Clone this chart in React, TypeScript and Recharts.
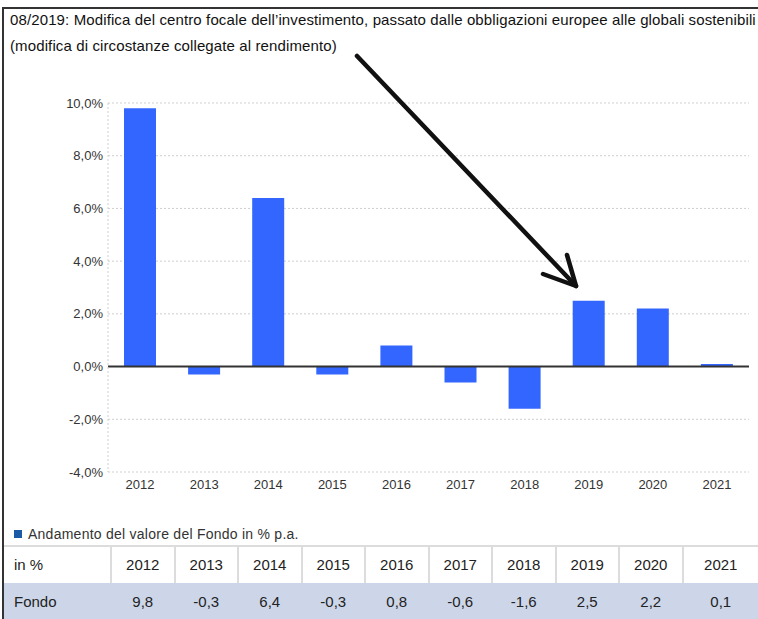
import React from "react";
import { BarChart, Bar, XAxis, YAxis, CartesianGrid, ReferenceLine } from "recharts";

const years = ["2012", "2013", "2014", "2015", "2016", "2017", "2018", "2019", "2020", "2021"];
const fondo = [9.8, -0.3, 6.4, -0.3, 0.8, -0.6, -1.6, 2.5, 2.2, 0.1];
const yTicks = [-4, -2, 0, 2, 4, 6, 8, 10];
const titleLines = [
  "08/2019: Modifica del centro focale dell\u2019investimento, passato dalle obbligazioni europee alle globali sostenibili",
  "(modifica di circostanze collegate al rendimento)",
];
const legendLabel = "Andamento del valore del Fondo in % p.a.";
const tableHeadLabel = "in %";
const tableRowLabel = "Fondo";

const data = years.map((y, i) => ({ year: y, value: fondo[i] }));
const fmtPct = (v: number) => v.toFixed(1).replace(".", ",") + "%";
const fmtNum = (v: number) => v.toFixed(1).replace(".", ",");

const FONT = "'Liberation Sans', Arial, Helvetica, sans-serif";

export default function App() {
  const colW = 63.5;
  const firstW = 106;
  return (
    <div style={{ position: "absolute", left: 0, top: 0, width: 758, height: 619, overflow: "hidden", background: "#fff", fontFamily: FONT }}>
      {/* frame */}
      <div style={{ position: "absolute", left: 2, top: 7, width: 800, height: 2, background: "#333" }} />
      <div style={{ position: "absolute", left: 2, top: 7, width: 2, height: 620, background: "#333" }} />
      {/* title */}
      {titleLines.map((t, i) => (
        <div key={i} style={{ position: "absolute", left: 10, top: 11 + i * 26, fontSize: 15, letterSpacing: 0.12, color: "#111", whiteSpace: "nowrap", lineHeight: "18px" }}>
          {t}
        </div>
      ))}
      <div style={{ position: "absolute", left: 0, top: 0 }}>
        <BarChart width={758} height={500} data={data} margin={{ top: 103, right: 9, bottom: 0, left: 48 }} barSize={32}>
          <CartesianGrid vertical={false} stroke="#cfcfcf" strokeDasharray="2 2" />
          <XAxis dataKey="year" height={28} axisLine={false} tickLine={false} tick={{ fontSize: 13, fill: "#333", fontFamily: FONT }} />
          <YAxis
            width={60}
            domain={[-4, 10]}
            ticks={yTicks}
            tickFormatter={fmtPct}
            axisLine={{ stroke: "#cfcfcf", strokeDasharray: "2 2" }}
            tickLine={false}
            tickSize={3}
            tickMargin={2}
            tick={{ fontSize: 13, fill: "#333", fontFamily: FONT }}
          />
          <Bar dataKey="value" fill="#3366ff" isAnimationActive={false} />
          <ReferenceLine y={0} stroke="#333" strokeWidth={2} />
        </BarChart>
      </div>
      {/* arrow annotation */}
      <svg style={{ position: "absolute", left: 0, top: 0 }} width={758} height={619}>
        <g stroke="#111" strokeWidth={4.5} strokeLinecap="round" strokeLinejoin="round" fill="none">
          <line x1={357} y1={56} x2={576} y2={286} />
          <polyline points="543,274 576,286 567,255" />
        </g>
      </svg>
      {/* legend */}
      <div style={{ position: "absolute", left: 14, top: 530, width: 8, height: 8, background: "#1b5ba5" }} />
      <div style={{ position: "absolute", left: 28, top: 526, fontSize: 14, letterSpacing: 0.25, color: "#333", lineHeight: "16px", whiteSpace: "nowrap" }}>
        {legendLabel}
      </div>
      {/* table */}
      <div style={{ position: "absolute", left: 4, top: 545, width: 800, height: 2, background: "#dcdcdc" }} />
      <div style={{ position: "absolute", left: 4, top: 547, width: 800, height: 36, background: "#fff" }}>
        <div style={{ position: "absolute", left: 10, top: 0, lineHeight: "36px", fontSize: 15, color: "#222" }}>{tableHeadLabel}</div>
        {years.map((y, i) => {
          const left = firstW + i * colW;
          const w = i === years.length - 1 ? 758 - 4 - left : colW;
          return (
            <div key={y} style={{ position: "absolute", left, top: 0, width: w, height: 36, borderLeft: "2px solid #dcdcdc", boxSizing: "border-box", textAlign: "center", lineHeight: "36px", fontSize: 15, color: "#222" }}>
              {y}
            </div>
          );
        })}
      </div>
      <div style={{ position: "absolute", left: 4, top: 583, width: 800, height: 40, background: "#cdd6e9" }}>
        <div style={{ position: "absolute", left: 10, top: 0, lineHeight: "38px", fontSize: 15, color: "#222" }}>{tableRowLabel}</div>
        {fondo.map((v, i) => {
          const left = firstW + i * colW;
          const w = i === fondo.length - 1 ? 758 - 4 - left : colW;
          return (
            <div key={i} style={{ position: "absolute", left, top: 0, width: w, height: 38, paddingLeft: 2, boxSizing: "border-box", textAlign: "center", lineHeight: "38px", fontSize: 15, color: "#222" }}>
              {fmtNum(v)}
            </div>
          );
        })}
      </div>
    </div>
  );
}
